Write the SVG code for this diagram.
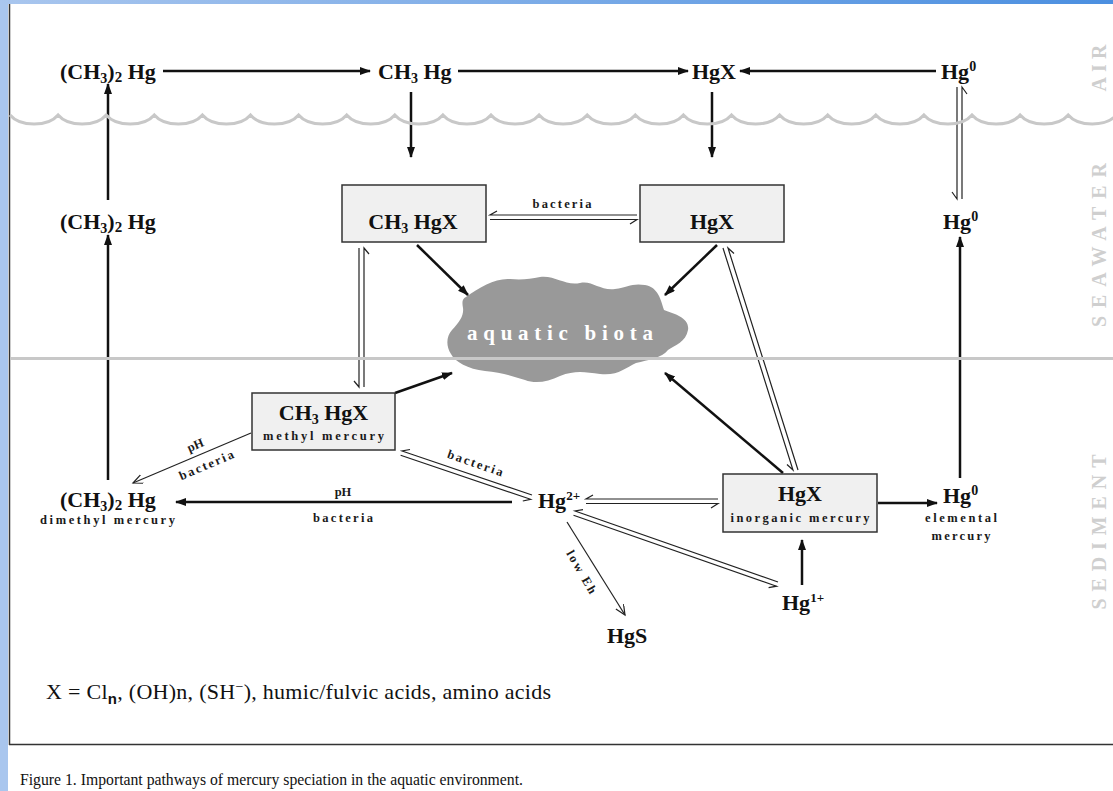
<svg xmlns="http://www.w3.org/2000/svg" width="1113" height="791" viewBox="0 0 1113 791">
<defs>
<linearGradient id="topg" x1="0" y1="0" x2="1" y2="0">
<stop offset="0" stop-color="#a9c6ee"/><stop offset="1" stop-color="#4b8fe0"/>
</linearGradient>
<marker id="ah" markerUnits="userSpaceOnUse" markerWidth="13" markerHeight="9" refX="10" refY="4" orient="auto">
<path d="M0,0 L11,4 L0,8 z" fill="#111"/>
</marker>
<marker id="oh" markerUnits="userSpaceOnUse" markerWidth="12" markerHeight="10" refX="10" refY="4.5" orient="auto">
<path d="M0,0 L10,4.5 L0,9" fill="none" stroke="#222" stroke-width="1.2"/>
</marker>
<style>
.lbl{font-family:"Liberation Serif","Times New Roman",serif;font-weight:bold;font-size:22px;fill:#111}
.sm{font-family:"Liberation Serif","Times New Roman",serif;font-weight:bold;font-size:12.5px;fill:#1a1a1a}
.zone{font-family:"Liberation Serif","Times New Roman",serif;font-weight:bold;font-size:20px;fill:#cfcfcf}
.thick{stroke:#111;stroke-width:2.5;fill:none;marker-end:url(#ah)}
.thin{stroke:#222;stroke-width:1.2;fill:none;marker-end:url(#oh)}
.harp{stroke:#222;stroke-width:1.2;fill:none}
.box{fill:#f0f0f0;stroke:#333;stroke-width:1.5}
.gray{stroke:#c8c8c8;stroke-width:3;fill:none}
</style>
</defs>
<rect width="1113" height="791" fill="#fff"/>
<g id="frame">
<rect x="0" y="0" width="8" height="791" fill="#a9c6ee"/>
<rect x="0" y="0" width="1113" height="4" fill="url(#topg)"/>
<line x1="9.5" y1="4" x2="9.5" y2="745" stroke="#333" stroke-width="1.5"/>
<line x1="9" y1="744.5" x2="1113" y2="744.5" stroke="#333" stroke-width="1.5"/>
</g>
<g id="biota-shape">
<path d="M466,297 C480,287 495,278 510,279 C522,280 530,279 540,277 C555,275 565,286 580,283 C592,280 600,291 615,289 C628,287 632,283 645,285 C658,287 661,300 664,310 C675,314 690,318 688,330 C686,342 675,345 668,350 C662,358 648,360 636,363 C625,368 618,376 600,374 C585,372 575,370 560,376 C548,382 535,384 525,380 C512,376 500,372 485,371 C468,369 455,362 451,354 C446,346 446,337 452,330 C460,322 464,315 463,308 C462,302 462,299 466,297 Z" fill="#999"/>
</g>
<g id="connectors">
<path class="thick" d="M163,71 H370"/>
<path class="thick" d="M458,71 H688"/>
<path class="thick" d="M936,71 H740"/>
<path class="thick" d="M108,200 V84"/>
<path class="thick" d="M411,92 V157"/>
<path class="thick" d="M712,92 V157"/>
<path class="thick" d="M108,480 V235"/>
<path class="thick" d="M960,478 V237"/>
<path class="thick" d="M417,245 L468,295"/>
<path class="thick" d="M717,245 L665,295"/>
<path class="thick" d="M395,393 L452,373"/>
<path class="thick" d="M783,473 L665,373"/>
<path class="thick" d="M512,502 H176"/>
<path class="thick" d="M878,503 H937"/>
<path class="thick" d="M802,585 V540"/>
<path class="thin" d="M251,433 L133,483"/>
<path class="thin" d="M567,522 L625,615"/>
<path class="harp" d="M637,215 H490 L497,211 M490,219.5 H637 L630,224"/>
<path class="harp" d="M359,248 V387 L354,381 M364,387 V248 L369,254"/>
<path class="harp" d="M957,87 V199 L952,192 M962,199 V87 L967,94"/>
<path class="harp" d="M798,470 L728,248 L734,253.5 M723,248 L793,470 L787,464.5"/>
<path class="harp" d="M532,495 L402,451 L410,449.5 M400.6,455.3 L530.6,499.3 L522.8,501"/>
<path class="harp" d="M718,499 H586 L593,495 M586,503.5 H718 L711,508"/>
<path class="harp" d="M778,582 L575,511 L583,509.6 M573.5,515.2 L776.5,586.2 L768.6,587.6"/>
<text class="sm" x="562" y="208" text-anchor="middle" textLength="59">bacteria</text>
<text class="sm" x="343" y="496" text-anchor="middle">pH</text>
<text class="sm" x="343" y="522" text-anchor="middle" textLength="60">bacteria</text>
<text class="sm" transform="translate(474,467) rotate(19)" text-anchor="middle" textLength="58">bacteria</text>
<text class="sm" transform="translate(197,449) rotate(-23)" text-anchor="middle">pH</text>
<text class="sm" transform="translate(208,469) rotate(-23)" text-anchor="middle" textLength="58">bacteria</text>
<text class="sm" transform="translate(578,574) rotate(60)" text-anchor="middle" textLength="48">low Eh</text>
</g>
<g id="layers">
<path class="gray" d="M10,115 C20,127 48.1,127 58.1,115 C68.1,127 96.2,127 106.2,115 C116.2,127 144.3,127 154.3,115 C164.3,127 192.4,127 202.4,115 C212.4,127 240.5,127 250.5,115 C260.5,127 288.6,127 298.6,115 C308.6,127 336.7,127 346.7,115 C356.7,127 384.8,127 394.8,115 C404.8,127 432.9,127 442.9,115 C452.9,127 481,127 491,115 C501,127 529.1,127 539.1,115 C549.1,127 577.2,127 587.2,115 C597.2,127 625.3,127 635.3,115 C645.3,127 673.4,127 683.4,115 C693.4,127 721.5,127 731.5,115 C741.5,127 769.6,127 779.6,115 C789.6,127 817.7,127 827.7,115 C837.7,127 865.8,127 875.8,115 C885.8,127 913.9,127 923.9,115 C933.9,127 962,127 972,115 C982,127 1010.1,127 1020.1,115 C1030.1,127 1058.2,127 1068.2,115 C1078.2,127 1106.3,127 1116.3,115"/>
<line class="gray" x1="10" y1="358.5" x2="1113" y2="358.5"/>
<text class="zone" transform="translate(1106,68) rotate(-90)" text-anchor="middle" textLength="47">AIR</text>
<text class="zone" transform="translate(1106,245) rotate(-90)" text-anchor="middle" textLength="164">SEAWATER</text>
<text class="zone" transform="translate(1106,532) rotate(-90)" text-anchor="middle" textLength="155">SEDIMENT</text>
</g>
<g id="n-air-dmhg"><text class="lbl" x="60" y="79">(CH<tspan font-size="14" dy="4">3</tspan><tspan dy="-4">)</tspan><tspan font-size="15" dy="3">2</tspan><tspan dy="-3"> Hg</tspan></text></g>
<g id="n-air-mehg"><text class="lbl" x="378" y="79">CH<tspan font-size="14" dy="4">3</tspan><tspan dy="-4"> Hg</tspan></text></g>
<g id="n-air-hgx"><text class="lbl" x="692" y="79">HgX</text></g>
<g id="n-air-hg0"><text class="lbl" x="941" y="79">Hg<tspan font-size="14" dy="-8">0</tspan></text></g>
<g id="n-sw-dmhg"><text class="lbl" x="60" y="229">(CH<tspan font-size="14" dy="4">3</tspan><tspan dy="-4">)</tspan><tspan font-size="15" dy="3">2</tspan><tspan dy="-3"> Hg</tspan></text></g>
<g id="n-sw-mehgx"><rect class="box" x="342" y="185" width="144" height="57"/><text class="lbl" x="413" y="229" text-anchor="middle">CH<tspan font-size="14" dy="4">3</tspan><tspan dy="-4"> HgX</tspan></text></g>
<g id="n-sw-hgx"><rect class="box" x="640" y="185" width="144" height="57"/><text class="lbl" x="712" y="229" text-anchor="middle">HgX</text></g>
<g id="n-sw-hg0"><text class="lbl" x="943" y="229">Hg<tspan font-size="14" dy="-8">0</tspan></text></g>
<g id="n-biota"><text x="467" y="340" textLength="186" font-family="Liberation Serif, serif" font-weight="bold" font-size="21" fill="#fff">aquatic biota</text></g>
<g id="n-sed-mehgx"><rect class="box" x="252" y="393" width="143" height="57"/><text class="lbl" x="323.5" y="420" text-anchor="middle">CH<tspan font-size="14" dy="4">3</tspan><tspan dy="-4"> HgX</tspan></text><text class="sm" x="323.5" y="440" text-anchor="middle" textLength="121">methyl mercury</text></g>
<g id="n-sed-dmhg"><text class="lbl" x="60" y="507">(CH<tspan font-size="14" dy="4">3</tspan><tspan dy="-4">)</tspan><tspan font-size="15" dy="3">2</tspan><tspan dy="-3"> Hg</tspan></text><text class="sm" x="40" y="524" textLength="135">dimethyl mercury</text></g>
<g id="n-hg2"><text class="lbl" x="538" y="508">Hg<tspan font-size="13" dy="-8">2+</tspan></text></g>
<g id="n-sed-hgx"><rect class="box" x="723" y="474" width="154" height="58"/><text class="lbl" x="800" y="501" text-anchor="middle">HgX</text><text class="sm" x="800" y="522" text-anchor="middle" textLength="139">inorganic mercury</text></g>
<g id="n-sed-hg0"><text class="lbl" x="943" y="503">Hg<tspan font-size="14" dy="-8">0</tspan></text><text class="sm" x="961" y="522" text-anchor="middle" textLength="72">elemental</text><text class="sm" x="961" y="540" text-anchor="middle" textLength="59">mercury</text></g>
<g id="n-hg1"><text class="lbl" x="782" y="610">Hg<tspan font-size="13" dy="-8">1+</tspan></text></g>
<g id="n-hgs"><text class="lbl" x="607" y="643">HgS</text></g>
<g id="legend"><text x="46" y="699" font-family="Liberation Serif, serif" font-size="22" fill="#111" textLength="505">X = Cl<tspan font-family="Liberation Sans, sans-serif" font-weight="bold" font-size="15" dy="5">n</tspan><tspan dy="-5">, (OH)n, (SH</tspan><tspan font-size="14" dy="-8">−</tspan><tspan dy="8">), humic/fulvic acids, amino acids</tspan></text></g>
<g id="caption"><text x="20" y="785" font-family="Liberation Serif, serif" font-size="16" fill="#111" textLength="503" lengthAdjust="spacingAndGlyphs">Figure 1. Important pathways of mercury speciation in the aquatic environment.</text></g>
</svg>
